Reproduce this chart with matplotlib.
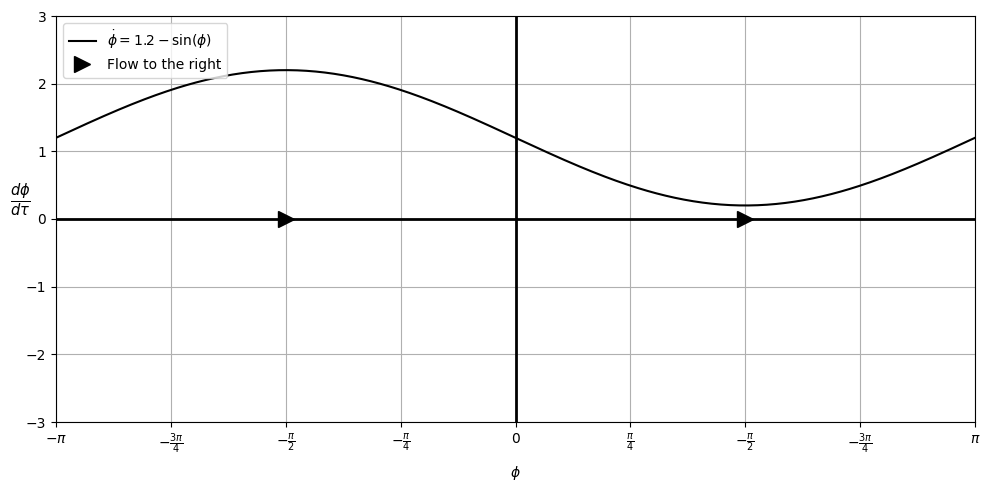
import numpy as np
import matplotlib
matplotlib.use("Agg")
import matplotlib.pyplot as plt

OFFSET = 1.2
tick_positions = [-np.pi, -3*np.pi/4, -np.pi/2, -np.pi/4, 0, np.pi/4, np.pi/2, 3*np.pi/4, np.pi]
tick_labels = [r'$-\pi$', r'$-\frac{3\pi}{4}$', r'$-\frac{\pi}{2}$', r'$-\frac{\pi}{4}$', '0',
               r'$\frac{\pi}{4}$', r'$-\frac{\pi}{2}$', r'$-\frac{3\pi}{4}$', r'$\pi$']
arrow_x = [-np.pi/2, np.pi/2]
arrow_y = [0, 0]

phi = np.linspace(-np.pi, np.pi, 500)
phidot = OFFSET - np.sin(phi)

fig, ax = plt.subplots(figsize=(9.89, 4.9), dpi=100)
fig.subplots_adjust(left=56/989, right=975/989, top=1-16/490, bottom=1-422/490)
ax.plot(phi, phidot, color='black', label=r'$\dot{\phi} = 1.2 - \sin(\phi)$')
ax.axhline(0, color='black', lw=2)
ax.axvline(0, color='black', lw=2)
ax.plot(arrow_x, arrow_y, linestyle='none', marker='>', color='black', markersize=12,
        label='Flow to the right')
ax.set_xlim(-np.pi, np.pi)
ax.set_ylim(-3, 3)
ax.set_xticks(tick_positions)
ax.set_xticklabels(tick_labels)
ax.grid(True)
ax.set_xlabel(r'$\phi$', labelpad=6)
ax.set_ylabel(r'$\frac{d\phi}{d\tau}$', rotation=0, fontsize=15, labelpad=4)
ax.legend(loc='upper left')
fig.savefig('out.png', dpi=100)
